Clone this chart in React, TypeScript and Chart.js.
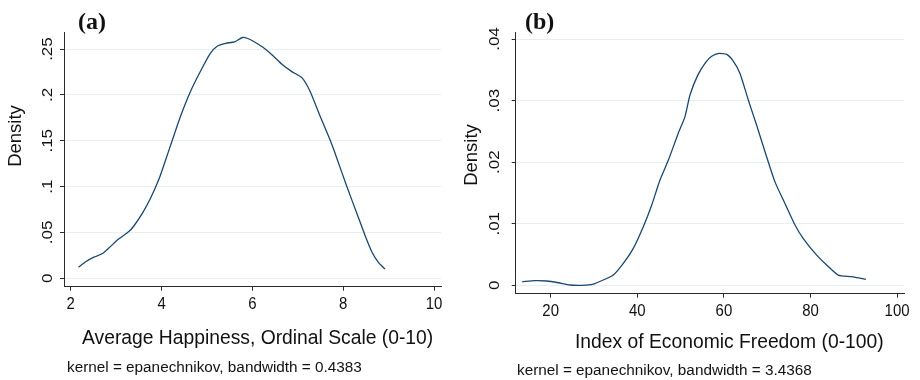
import React, { useEffect, useRef } from "react";
import { Chart, registerables } from "chart.js";

Chart.register(...registerables);

// ---------- data ----------
const happinessX = [2.17, 2.33, 2.51, 2.7, 2.84, 3.06, 3.28, 3.39, 3.58, 3.76, 3.95, 4.09, 4.24, 4.42, 4.64, 4.86, 5.07, 5.23, 5.41, 5.61, 5.78, 5.9, 6.04, 6.24, 6.46, 6.65, 6.87, 7.09, 7.27, 7.49, 7.71, 7.86, 8.08, 8.3, 8.48, 8.63, 8.78, 8.92];
const happinessY = [0.012, 0.018, 0.023, 0.027, 0.033, 0.043, 0.051, 0.057, 0.071, 0.0875, 0.109, 0.129, 0.151, 0.177, 0.204, 0.226, 0.245, 0.2534, 0.2563, 0.2578, 0.2626, 0.2615, 0.258, 0.2516, 0.2425, 0.2334, 0.2254, 0.2188, 0.204, 0.177, 0.151, 0.131, 0.1, 0.071, 0.047, 0.029, 0.017, 0.01];

const freedomX = [13.44, 16.37, 19.08, 21.76, 24.46, 27.16, 29.84, 32.15, 34.46, 36.77, 39.08, 41.39, 43.32, 45.24, 47.16, 49.47, 51.02, 52.17, 53.95, 55.8, 57.18, 58.87, 60.65, 62.17, 63.72, 65.64, 67.57, 69.5, 71.8, 74.1, 76.42, 78.34, 81.43, 83.74, 86.4, 89.5, 92.8];
const freedomY = [0.00058, 0.00075, 0.0007, 0.00042, 0.00005, 0.0, 0.0002, 0.00086, 0.00167, 0.00357, 0.006, 0.0095, 0.013, 0.0171, 0.0203, 0.0247, 0.0274, 0.0309, 0.0341, 0.0362, 0.0372, 0.03766, 0.0375, 0.0364, 0.0344, 0.0301, 0.026, 0.0217, 0.0168, 0.0133, 0.0098, 0.0076, 0.0049, 0.0033, 0.00167, 0.0014, 0.00097];

const happinessXTicks = [2, 4, 6, 8, 10];
const happinessXTickLabels = ["2", "4", "6", "8", "10"];
const happinessYTicks = [0, 0.05, 0.1, 0.15, 0.2, 0.25];
const happinessYTickLabels = ["0", ".05", ".1", ".15", ".2", ".25"];

const freedomXTicks = [20, 40, 60, 80, 100];
const freedomXTickLabels = ["20", "40", "60", "80", "100"];
const freedomYTicks = [0, 0.01, 0.02, 0.03, 0.04];
const freedomYTickLabels = ["0", ".01", ".02", ".03", ".04"];

const panelLabels = ["(a)", "(b)"];
const xTitles = ["Average Happiness, Ordinal Scale (0-10)", "Index of Economic Freedom (0-100)"];
const yTitle = "Density";
const notes = ["kernel = epanechnikov, bandwidth = 0.4383", "kernel = epanechnikov, bandwidth = 3.4368"];

// ---------- styling ----------
const LINE = "#1a476f";
const AXIS = "#2b2b2b";
const GRID = "#e7eff2";
const TEXT = "#111111";
const SANS = '"Liberation Sans", Arial, sans-serif';
const SERIF = '"Liberation Serif", "Times New Roman", serif';

type PanelProps = {
  xs: number[];
  ys: number[];
  xTicks: number[];
  xTickLabels: string[];
  yTicks: number[];
  yTickLabels: string[];
  xMin: number;
  xMax: number;
  yMin: number;
  yMax: number;
  label: string;
  xTitle: string;
  note: string;
  frame: { left: number; right: number; top: number; bottom: number };
  pos: {
    labelX: number;
    labelY: number;
    densityX: number;
    densityY: number;
    yTickX: number;
    xTickY: number;
    titleX: number;
    titleY: number;
    noteX: number;
    noteY: number;
  };
};

function Panel(p: PanelProps) {
  const ref = useRef<HTMLCanvasElement | null>(null);
  useEffect(() => {
    const canvas = ref.current;
    if (!canvas) return;
    const textPlugin = {
      id: "stataText",
      afterDraw(chart: any) {
        const ctx = chart.ctx as CanvasRenderingContext2D;
        const sx = chart.scales.x;
        const sy = chart.scales.y;
        ctx.save();
        ctx.fillStyle = TEXT;
        // y tick labels (rotated)
        p.yTicks.forEach((v, i) => {
          const py = sy.getPixelForValue(v);
          ctx.save();
          ctx.translate(p.pos.yTickX, py);
          ctx.rotate(-Math.PI / 2);
          ctx.scale(1, 0.84);
          ctx.font = `17px ${SANS}`;
          ctx.textAlign = "center";
          ctx.textBaseline = "middle";
          ctx.fillText(p.yTickLabels[i], 0, 0);
          ctx.restore();
        });
        // x tick labels
        p.xTicks.forEach((v, i) => {
          const px = sx.getPixelForValue(v);
          ctx.save();
          ctx.translate(px, p.pos.xTickY);
          ctx.scale(0.88, 1);
          ctx.font = `17px ${SANS}`;
          ctx.textAlign = "center";
          ctx.textBaseline = "middle";
          ctx.fillText(p.xTickLabels[i], 0, 0);
          ctx.restore();
        });
        // y title
        ctx.save();
        ctx.translate(p.pos.densityX, p.pos.densityY);
        ctx.rotate(-Math.PI / 2);
        ctx.font = `18.5px ${SANS}`;
        ctx.textAlign = "center";
        ctx.textBaseline = "middle";
        ctx.fillText(yTitle, 0, 0);
        ctx.restore();
        // x title
        ctx.font = `19.3px ${SANS}`;
        ctx.textAlign = "left";
        ctx.textBaseline = "alphabetic";
        ctx.fillText(p.xTitle, p.pos.titleX, p.pos.titleY);
        // note
        ctx.font = `15.3px ${SANS}`;
        ctx.fillText(p.note, p.pos.noteX, p.pos.noteY);
        // panel label
        ctx.font = `bold 24px ${SERIF}`;
        ctx.textBaseline = "middle";
        ctx.fillText(p.label, p.pos.labelX, p.pos.labelY);
        ctx.restore();
      },
    };

    const chart = new Chart(canvas, {
      type: "line",
      data: {
        datasets: [
          {
            data: p.xs.map((x, i) => ({ x, y: p.ys[i] })),
            borderColor: LINE,
            borderWidth: 1.3,
            pointRadius: 0,
            tension: 0.2,
            fill: false,
          },
        ],
      },
      options: {
        responsive: false,
        maintainAspectRatio: false,
        animation: false,
        events: [],
        layout: { padding: { left: 0, right: p.frame.right, top: p.frame.top, bottom: 0 } },
        plugins: {
          legend: { display: false },
          tooltip: { enabled: false },
          title: { display: false },
        },
        scales: {
          x: {
            type: "linear",
            min: p.xMin,
            max: p.xMax,
            afterBuildTicks: (s: any) => {
              s.ticks = p.xTicks.map((v) => ({ value: v }));
            },
            afterFit: (s: any) => {
              s.height = p.frame.bottom;
            },
            ticks: { display: false },
            grid: {
              display: true,
              drawOnChartArea: false,
              drawTicks: true,
              tickLength: 4,
              tickColor: AXIS,
              color: AXIS,
              lineWidth: 1,
            },
            border: { display: true, color: AXIS, width: 1 },
          },
          y: {
            type: "linear",
            min: p.yMin,
            max: p.yMax,
            afterBuildTicks: (s: any) => {
              s.ticks = p.yTicks.map((v) => ({ value: v }));
            },
            afterFit: (s: any) => {
              s.width = p.frame.left;
            },
            ticks: { display: false },
            grid: {
              display: true,
              drawOnChartArea: true,
              drawTicks: true,
              tickLength: 4,
              tickColor: AXIS,
              color: GRID,
              lineWidth: 1,
            },
            border: { display: true, color: AXIS, width: 1 },
          },
        },
      } as any,
      plugins: [textPlugin],
    });
    return () => chart.destroy();
  }, []);
  return <canvas ref={ref} width={460} height={380} style={{ width: 460, height: 380, display: "block" }} />;
}

export default function App() {
  return (
    <div
      style={{
        position: "fixed",
        left: 0,
        top: 0,
        width: 920,
        height: 380,
        background: "#ffffff",
        display: "flex",
      }}
    >
      <Panel
        xs={happinessX}
        ys={happinessY}
        xTicks={happinessXTicks}
        xTickLabels={happinessXTickLabels}
        yTicks={happinessYTicks}
        yTickLabels={happinessYTickLabels}
        xMin={1.852}
        xMax={10.154}
        yMin={-0.0092}
        yMax={0.2686}
        label={panelLabels[0]}
        xTitle={xTitles[0]}
        note={notes[0]}
        frame={{ left: 64, right: 19, top: 32, bottom: 93.3 }}
        pos={{
          labelX: 78,
          labelY: 23,
          densityX: 16,
          densityY: 136,
          yTickX: 48,
          xTickY: 304.5,
          titleX: 82,
          titleY: 344,
          noteX: 67,
          noteY: 372,
        }}
      />
      <Panel
        xs={freedomX}
        ys={freedomY}
        xTicks={freedomXTicks}
        xTickLabels={freedomXTickLabels}
        yTicks={freedomYTicks}
        yTickLabels={freedomYTickLabels}
        xMin={11.92}
        xMax={101.6}
        yMin={-0.00136}
        yMax={0.04109}
        label={panelLabels[1]}
        xTitle={xTitles[1]}
        note={notes[1]}
        frame={{ left: 55.7, right: 16, top: 32.3, bottom: 86.3 }}
        pos={{
          labelX: 65,
          labelY: 23,
          densityX: 12,
          densityY: 155,
          yTickX: 35.5,
          xTickY: 311.7,
          titleX: 115,
          titleY: 348.3,
          noteX: 57,
          noteY: 375,
        }}
      />
    </div>
  );
}
